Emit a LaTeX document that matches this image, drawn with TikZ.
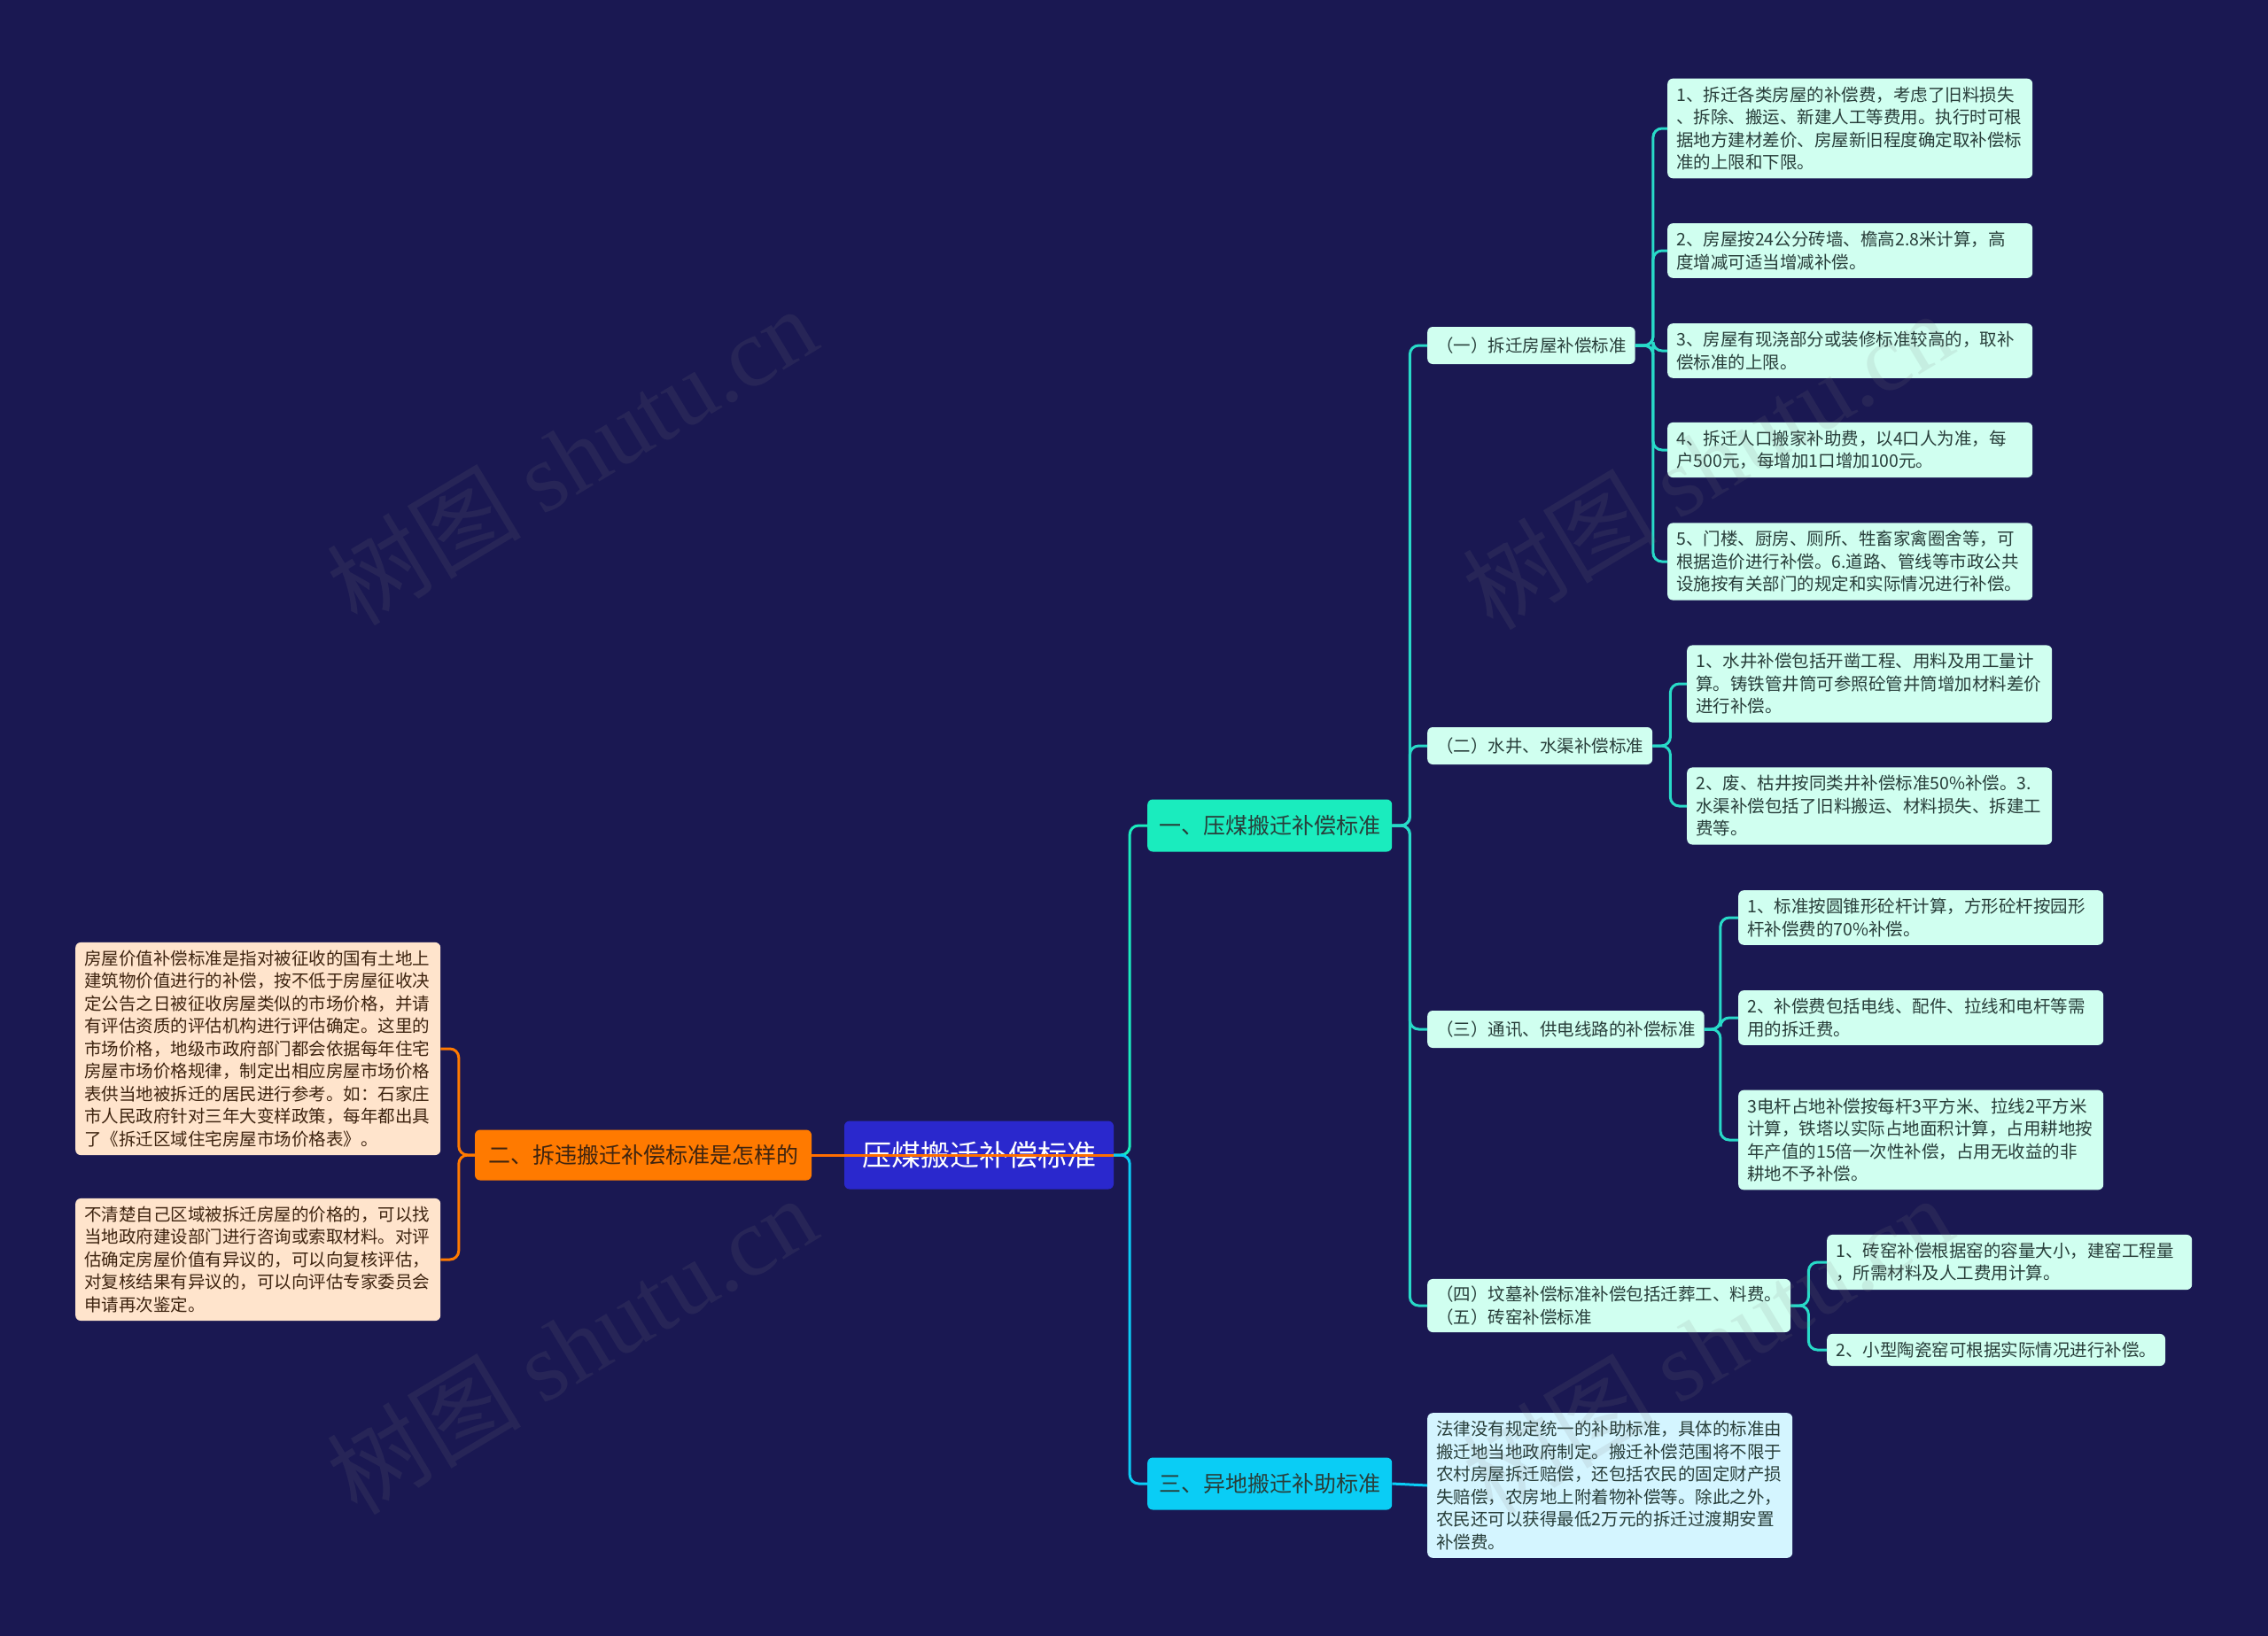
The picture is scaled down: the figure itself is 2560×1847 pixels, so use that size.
\documentclass[tikz,border=0pt]{standalone}
\usepackage{fontspec}
\setmainfont{Noto Sans CJK SC}
\newfontfamily\wmfont{Liberation Serif}
\definecolor{bgc}{RGB}{26,24,82}
\definecolor{rootc}{RGB}{42,40,205}
\definecolor{orgc}{RGB}{255,122,0}
\definecolor{grnc}{RGB}{26,236,190}
\definecolor{cyac}{RGB}{10,205,245}
\definecolor{mint}{RGB}{208,255,240}
\definecolor{skyc}{RGB}{212,245,255}
\definecolor{peach}{RGB}{255,228,204}
\definecolor{linec}{RGB}{40,218,200}
\definecolor{leaftxt}{RGB}{40,62,58}
\definecolor{browntxt}{RGB}{62,36,16}
\begin{document}
\begin{tikzpicture}[x=1pt, y=-1pt,
  lf/.style={fill=mint, rounded corners=6pt, text=leaftxt, align=left, text width=392pt, inner xsep=10pt, inner ysep=9pt, anchor=west, font=\fontsize{19.5}{25.5}\selectfont},
  pch/.style={lf, fill=peach, text=browntxt},
  sb/.style={fill=mint, rounded corners=6pt, text=leaftxt, align=left, inner xsep=10pt, inner ysep=8pt, minimum height=42pt, anchor=west, font=\fontsize{19.5}{25.5}\selectfont},
  t1/.style={fill=grnc, rounded corners=6pt, text=leaftxt, inner xsep=13pt, minimum height=59pt, anchor=west, font=\fontsize{25}{30}\selectfont},
  org/.style={fill=orgc, rounded corners=6pt, text=browntxt, inner xsep=15pt, minimum height=57pt, font=\fontsize{25}{30}\selectfont},
  rt/.style={fill=rootc, rounded corners=6pt, text=white, inner xsep=20pt, minimum height=77pt, font=\fontsize{33}{38}\selectfont},
  ln/.style={draw=linec, line width=3pt, rounded corners=10pt},
  wm/.style={text=gray, opacity=0.13, rotate=31, font=\fontsize{110}{120}\selectfont}
]
\fill[bgc] (0,0) rectangle (2560,1847);
\useasboundingbox (0,0) rectangle (2560,1847);

\node[rt] (root) at (1105,1304) {压煤搬迁补偿标准};
\node[org] (o2) at (726,1304) {二、拆违搬迁补偿标准是怎样的};
\node[pch] (p1) at (85,1184) {房屋价值补偿标准是指对被征收的国有土地上\\建筑物价值进行的补偿，按不低于房屋征收决\\定公告之日被征收房屋类似的市场价格，并请\\有评估资质的评估机构进行评估确定。这里的\\市场价格，地级市政府部门都会依据每年住宅\\房屋市场价格规律，制定出相应房屋市场价格\\表供当地被拆迁的居民进行参考。如：石家庄\\市人民政府针对三年大变样政策，每年都出具\\了《拆迁区域住宅房屋市场价格表》。};
\node[pch] (p2) at (85,1422) {不清楚自己区域被拆迁房屋的价格的，可以找\\当地政府建设部门进行咨询或索取材料。对评\\估确定房屋价值有异议的，可以向复核评估，\\对复核结果有异议的，可以向评估专家委员会\\申请再次鉴定。};

\node[t1] (s1) at (1295,932) {一、压煤搬迁补偿标准};
\node[t1, fill=cyac] (s3) at (1295,1675) {三、异地搬迁补助标准};

\node[sb] (a1) at (1611,390) {（一）拆迁房屋补偿标准};
\node[sb] (a2) at (1611,842) {（二）水井、水渠补偿标准};
\node[sb] (a3) at (1611,1162) {（三）通讯、供电线路的补偿标准};
\node[sb] (a4) at (1611,1474) {（四）坟墓补偿标准补偿包括迁葬工、料费。\\（五）砖窑补偿标准};

\node[lf] (a11) at (1882,145) {1、拆迁各类房屋的补偿费，考虑了旧料损失\\、拆除、搬运、新建人工等费用。执行时可根\\据地方建材差价、房屋新旧程度确定取补偿标\\准的上限和下限。};
\node[lf] (a12) at (1882,283) {2、房屋按24公分砖墙、檐高2.8米计算，高\\度增减可适当增减补偿。};
\node[lf] (a13) at (1882,396) {3、房屋有现浇部分或装修标准较高的，取补\\偿标准的上限。};
\node[lf] (a14) at (1882,508) {4、拆迁人口搬家补助费，以4口人为准，每\\户500元，每增加1口增加100元。};
\node[lf] (a15) at (1882,634) {5、门楼、厨房、厕所、牲畜家禽圈舍等，可\\根据造价进行补偿。6.道路、管线等市政公共\\设施按有关部门的规定和实际情况进行补偿。};

\node[lf] (a21) at (1904,772) {1、水井补偿包括开凿工程、用料及用工量计\\算。铸铁管井筒可参照砼管井筒增加材料差价\\进行补偿。};
\node[lf] (a22) at (1904,910) {2、废、枯井按同类井补偿标准50\%补偿。3.\\水渠补偿包括了旧料搬运、材料损失、拆建工\\费等。};

\node[lf] (a31) at (1962,1036) {1、标准按圆锥形砼杆计算，方形砼杆按园形\\杆补偿费的70\%补偿。};
\node[lf] (a32) at (1962,1149) {2、补偿费包括电线、配件、拉线和电杆等需\\用的拆迁费。};
\node[lf] (a33) at (1962,1287) {3电杆占地补偿按每杆3平方米、拉线2平方米\\计算，铁塔以实际占地面积计算，占用耕地按\\年产值的15倍一次性补偿，占用无收益的非\\耕地不予补偿。};

\node[lf] (a41) at (2062,1425) {1、砖窑补偿根据窑的容量大小，建窑工程量\\，所需材料及人工费用计算。};
\node[lf, text width=] (a42) at (2062,1524) {2、小型陶瓷窑可根据实际情况进行补偿。};

\node[lf, fill=skyc] (s31) at (1611,1677) {法律没有规定统一的补助标准，具体的标准由\\搬迁地当地政府制定。搬迁补偿范围将不限于\\农村房屋拆迁赔偿，还包括农民的固定财产损\\失赔偿，农房地上附着物补偿等。除此之外，\\农民还可以获得最低2万元的拆迁过渡期安置\\补偿费。};

\draw[ln, draw=grnc] (root.east) -- ++(18,0) |- (s1.west);
\draw[ln, draw=cyac] (root.east) -- ++(18,0) |- (s3.west);
\draw[ln, draw=orgc!90!red] (root.east) -- (o2.east);
\draw[ln, draw=orgc] (o2.west) -- ++(-18,0) |- (p1.east);
\draw[ln, draw=orgc] (o2.west) -- ++(-18,0) |- (p2.east);
\foreach \c in {a1,a2,a3,a4}
  \draw[ln] (s1.east) -- ++(20,0) |- (\c.west);
\foreach \c in {a11,a12,a13,a14,a15}
  \draw[ln] (a1.east) -- ++(20,0) |- (\c.west);
\foreach \c in {a21,a22}
  \draw[ln] (a2.east) -- ++(20,0) |- (\c.west);
\foreach \c in {a31,a32,a33}
  \draw[ln] (a3.east) -- ++(18,0) |- (\c.west);
\foreach \c in {a41,a42}
  \draw[ln] (a4.east) -- ++(20,0) |- (\c.west);
\draw[ln, draw=cyac] (s3.east) -- (s31.west);

\node[wm] at (645,514) {树图 {\wmfont shutu.cn}};
\node[wm] at (1927,519) {树图 {\wmfont shutu.cn}};
\node[wm] at (645,1518) {树图 {\wmfont shutu.cn}};
\node[wm] at (1927,1518) {树图 {\wmfont shutu.cn}};
\end{tikzpicture}
\end{document}
